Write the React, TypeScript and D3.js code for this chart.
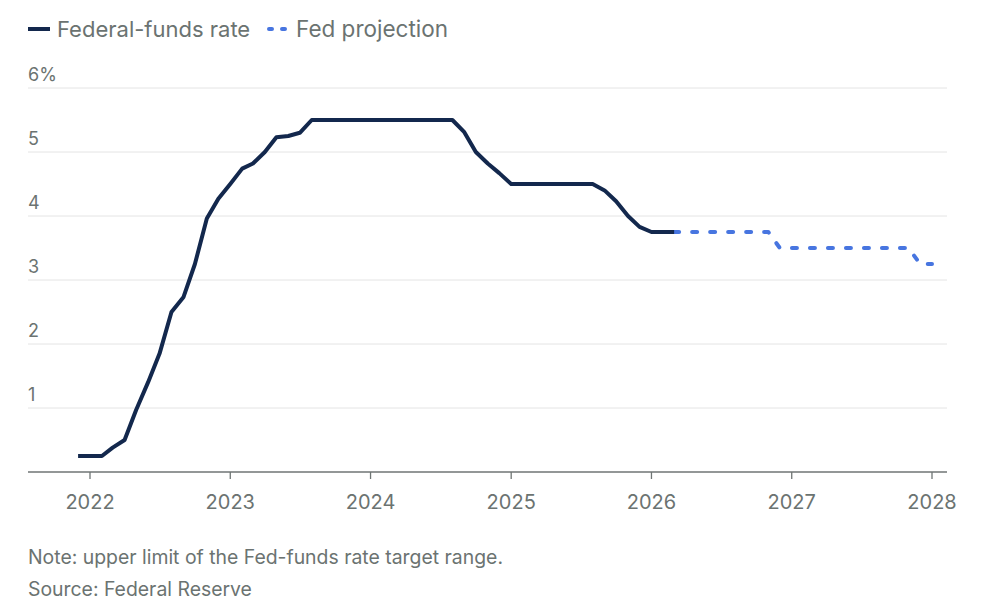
import React, { useEffect, useRef } from "react"
import * as d3 from "d3"

// monthly average of the upper limit, first month is Dec 2021
const fedStart = "2021-12"
const fedValues: number[] = [
    0.25, 0.25, 0.25, 0.38, 0.5, 0.97, 1.4, 1.85, 2.5, 2.73, 3.25, 3.96, 4.27,
    4.5, 4.74, 4.82, 5.0, 5.23, 5.25, 5.3,
    5.5, 5.5, 5.5, 5.5, 5.5, 5.5, 5.5, 5.5, 5.5, 5.5, 5.5, 5.5, 5.5,
    5.31, 5.0, 4.82, 4.67,
    4.5, 4.5, 4.5, 4.5, 4.5, 4.5, 4.5, 4.5,
    4.4, 4.23, 4.0, 3.83, 3.75, 3.75, 3.75,
]

// projection, first month is Mar 2026
const projStart = "2026-03"
const projValues: number[] = [
    3.75, 3.75, 3.75, 3.75, 3.75, 3.75, 3.75, 3.75, 3.75,
    3.5, 3.5, 3.5, 3.5, 3.5, 3.5, 3.5, 3.5, 3.5, 3.5, 3.5, 3.5,
    3.25, 3.25,
]

const yearTicks = [2022, 2023, 2024, 2025, 2026, 2027, 2028]
const yTicks = [1, 2, 3, 4, 5, 6]

const legendItems = ["Federal-funds rate", "Fed projection"]
const note = "Note: upper limit of the Fed-funds rate target range."
const source = "Source: Federal Reserve"

const width = 984
const height = 609
const textColor = "#6b7371"
const fedColor = "#13284d"
const projColor = "#4775e0"
const font = "Inter, 'Noto Sans', sans-serif"

type Pt = { date: Date, value: number }

function toSeries(start: string, values: number[]): Pt[] {
    const [y, m] = start.split("-").map(Number)
    return values.map((v, i) => ({ date: new Date(y, m - 1 + i, 1), value: v }))
}

function App() {
    const ref = useRef<SVGSVGElement>(null)

    useEffect(() => {
        document.body.style.margin = "0"
        const svg = d3.select(ref.current)
        svg.selectAll("*").remove()

        const x = d3.scaleTime()
            .domain([new Date(2022, 0, 1), new Date(2028, 0, 1)])
            .range([90, 932])
        const y = d3.scaleLinear().domain([0, 6]).range([472, 88])
        const [left, right] = [28, 947]

        // gridlines + y labels
        const grid = svg.append("g")
        grid.selectAll("line").data(yTicks).enter().append("line")
            .attr("x1", left).attr("x2", right)
            .attr("y1", d => y(d)).attr("y2", d => y(d))
            .attr("stroke", "#e4e4e4").attr("stroke-width", 1)
        grid.selectAll("text").data(yTicks).enter().append("text")
            .attr("x", left).attr("y", d => y(d) - 7)
            .attr("fill", textColor).attr("font-size", 18).attr("font-family", font)
            .text(d => d === 6 ? "6%" : String(d))

        // x axis
        const xAxis = svg.append("g")
        xAxis.append("line")
            .attr("x1", left).attr("x2", right).attr("y1", 472).attr("y2", 472)
            .attr("stroke", "#6f7574").attr("stroke-width", 1.3)
        const ticks = xAxis.selectAll("g").data(yearTicks).enter().append("g")
            .attr("transform", d => `translate(${x(new Date(d, 0, 1))},0)`)
        ticks.append("line").attr("y1", 472).attr("y2", 479)
            .attr("stroke", "#6f7574").attr("stroke-width", 1.3)
        ticks.append("text").attr("y", 509).attr("text-anchor", "middle")
            .attr("fill", textColor).attr("font-size", 20).attr("font-family", font)
            .text(d => String(d))

        const line = d3.line<Pt>().x(d => x(d.date)).y(d => y(d.value))

        svg.append("path").datum(toSeries(projStart, projValues))
            .attr("d", line).attr("fill", "none")
            .attr("stroke", projColor).attr("stroke-width", 4)
            .attr("stroke-dasharray", "5 13").attr("stroke-linecap", "round")
            .attr("stroke-linejoin", "round")

        svg.append("path").datum(toSeries(fedStart, fedValues))
            .attr("d", line).attr("fill", "none")
            .attr("stroke", fedColor).attr("stroke-width", 4)
            .attr("stroke-linejoin", "round")

        // legend
        const lg = svg.append("g")
        lg.append("line").attr("x1", 28).attr("x2", 50).attr("y1", 29).attr("y2", 29)
            .attr("stroke", fedColor).attr("stroke-width", 4)
        lg.append("text").attr("x", 57).attr("y", 37)
            .attr("fill", textColor).attr("font-size", 22).attr("font-family", font)
            .text(legendItems[0])
        lg.append("line").attr("x1", 269).attr("x2", 287).attr("y1", 29).attr("y2", 29)
            .attr("stroke", projColor).attr("stroke-width", 4)
            .attr("stroke-dasharray", "3 10").attr("stroke-linecap", "round")
        lg.append("text").attr("x", 296).attr("y", 37)
            .attr("fill", textColor).attr("font-size", 22.5).attr("font-family", font)
            .text(legendItems[1])

        // footnotes
        svg.append("text").attr("x", 28).attr("y", 564)
            .attr("fill", textColor).attr("font-size", 19.4).attr("font-family", font)
            .text(note)
        svg.append("text").attr("x", 28).attr("y", 596)
            .attr("fill", textColor).attr("font-size", 19.4).attr("font-family", font)
            .text(source)
    }, [])

    return <svg ref={ref} width={width} height={height} style={{ display: "block" }}></svg>
}

export default App
